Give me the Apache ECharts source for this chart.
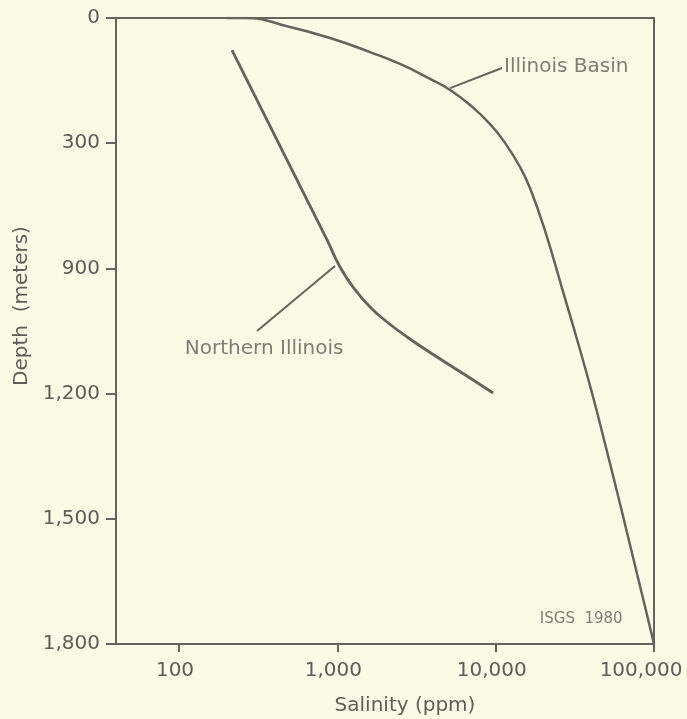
<!DOCTYPE html>
<html>
<head>
<meta charset="utf-8">
<script src="https://cdn.jsdelivr.net/npm/echarts@6/dist/echarts.min.js"></script>
<style>
  html, body { margin: 0; padding: 0; background: #fafbe6; }
  #chart { width: 687px; height: 719px; }
</style>
</head>
<body>
<div id="chart"></div>
<script>
// Depth axis: evenly spaced ticks labelled as in the original figure
const yTickLabels = ['0', '300', '900', '1,200', '1,500', '1,800'];
// Salinity axis (log)
const xTickValues = [100, 1000, 10000, 100000];
const xTickLabels = ['100', '1,000', '10,000', '100,000'];

// Illinois Basin curve: salinity (ppm) and depth position (in tick steps)
const basinSalinity = [200, 261, 502, 899, 1609, 2489, 3851, 5152, 6890, 9218, 11466, 14260, 16494, 20512, 26660, 33150, 41240, 49110, 58480, 68620, 78190, 89130, 100000];
const basinDepth    = [0, 0, 0.072, 0.16, 0.272, 0.367, 0.487, 0.575, 0.695, 0.847, 0.998, 1.19, 1.36, 1.70, 2.188, 2.596, 3.027, 3.403, 3.786, 4.145, 4.441, 4.736, 5.0];

// Northern Illinois curve
const northSalinity = [216, 861, 1040, 1257, 1609, 2061, 2756, 4265, 6890, 9630];
const northDepth    = [0.256, 1.773, 1.989, 2.149, 2.308, 2.428, 2.548, 2.708, 2.875, 2.995];

// Leader lines for the labels
const basinLeaderSalinity = [5152, 10970];
const basinLeaderDepth = [0.56, 0.399];
const northLeaderSalinity = [966, 311];
const northLeaderDepth = [1.981, 2.5];

// Annotation texts
const annotNames = ['Illinois Basin', 'Northern Illinois', 'ISGS  1980'];
const annotSalinity = [10970, 345, 34700];
const annotDepth = [0.39, 2.64, 4.8];

const ink = '#65645a';
const textInk = '#5e5e56';
const font = 'DejaVu Sans';
const fs = 20;

const zip = (a, b) => a.map((v, i) => [v, b[i]]);
const xLabelMap = {};
xTickValues.forEach((v, i) => { xLabelMap[v] = xTickLabels[i]; });

const chart = echarts.init(document.getElementById('chart'));
chart.setOption({
  backgroundColor: '#fafbe6',
  animation: false,
  grid: {
    left: 116, right: 33, top: 18, bottom: 75,
    outerBoundsMode: 'none', containLabel: false,
    show: true, borderColor: ink, borderWidth: 2, backgroundColor: 'transparent'
  },
  xAxis: {
    type: 'log', logBase: 10, min: 40, max: 100000,
    name: 'Salinity (ppm)', nameLocation: 'middle', nameGap: 52,
    nameTextStyle: { fontFamily: font, fontSize: fs, color: textInk, padding: [0, 0, 0, 40] },
    axisLine: { show: true, onZero: false, lineStyle: { color: ink, width: 2 } },
    axisTick: { show: true, length: 8, inside: false, customValues: xTickValues, lineStyle: { color: ink, width: 2 } },
    axisLabel: {
      customValues: xTickValues, margin: 17,
      fontFamily: font, fontSize: fs, color: textInk,
      formatter: v => {
        const lab = xLabelMap[Math.round(v)] || '';
        return lab === '100,000' ? '{r|' + lab + '}' : '{n|' + lab + '}';
      },
      rich: {
        n: { fontFamily: font, fontSize: fs, color: textInk, padding: [0, 8, 0, 0] },
        r: { fontFamily: font, fontSize: fs, color: textInk, padding: [0, 26, 0, 0] }
      }
    },
    splitLine: { show: false }, minorTick: { show: false }
  },
  yAxis: {
    type: 'value', inverse: true, min: 0, max: 5, interval: 1,
    name: 'Depth  (meters)', nameLocation: 'middle', nameGap: 84, nameRotate: 90,
    nameTextStyle: { fontFamily: font, fontSize: fs, color: textInk, padding: [0, 0, 0, 50] },
    axisLine: { show: true, onZero: false, lineStyle: { color: ink, width: 2 } },
    axisTick: { show: true, length: 10, inside: false, lineStyle: { color: ink, width: 2 } },
    axisLabel: {
      margin: 16, fontFamily: font, fontSize: fs, color: textInk,
      formatter: v => yTickLabels[Math.round(v)] || ''
    },
    splitLine: { show: false }
  },
  series: [
    {
      name: 'Illinois Basin', type: 'line', smooth: 0.5, symbol: 'none',
      data: zip(basinSalinity, basinDepth),
      lineStyle: { color: ink, width: 2.5 }
    },
    {
      name: 'Northern Illinois', type: 'line', smooth: 0.5, symbol: 'none',
      data: zip(northSalinity, northDepth),
      lineStyle: { color: ink, width: 2.8 }
    },
    {
      type: 'line', symbol: 'none', data: zip(basinLeaderSalinity, basinLeaderDepth),
      lineStyle: { color: ink, width: 2 }
    },
    {
      type: 'line', symbol: 'none', data: zip(northLeaderSalinity, northLeaderDepth),
      lineStyle: { color: ink, width: 2 }
    },
    {
      type: 'scatter', symbolSize: 0, silent: true,
      data: annotNames.map((n, i) => ({
        name: n, value: [annotSalinity[i], annotDepth[i]],
        label: i === 0 ? { position: 'right', distance: 2, fontSize: fs }
             : i === 1 ? { position: 'inside', fontSize: fs }
             : { position: 'inside', fontSize: 15 }
      })),
      label: {
        show: true, formatter: p => p.name,
        fontFamily: font, color: textInk
      }
    }
  ]
});
</script>
</body>
</html>
